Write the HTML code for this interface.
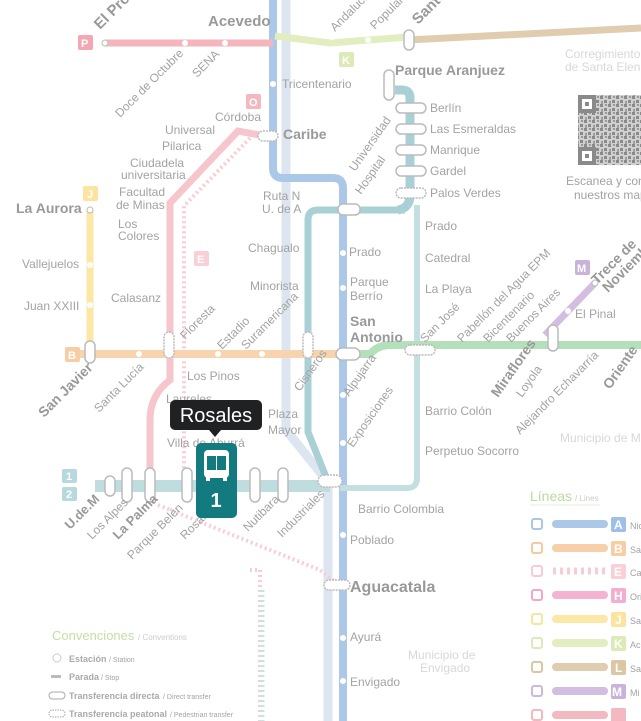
<!DOCTYPE html>
<html><head><meta charset="utf-8"><style>
html,body{margin:0;padding:0;background:#fff;width:641px;height:721px;overflow:hidden}
svg{display:block;font-family:"Liberation Sans",sans-serif}
text{fill:#a3a3a3}
.b{font-weight:bold;fill:#999}
.cap{fill:#fff;stroke:#bbb;stroke-width:1.5}
</style></head><body>
<svg width="641" height="721" viewBox="0 0 641 721" xmlns="http://www.w3.org/2000/svg" font-size="12">
<defs>
<pattern id="qr" width="8" height="8" patternUnits="userSpaceOnUse">
<rect width="8" height="8" fill="#d0d0d0"/><rect width="3" height="3" fill="#8a8a8a"/><rect x="4" y="4" width="3" height="3" fill="#8a8a8a"/><rect x="5" y="0" width="2" height="2" fill="#9a9a9a"/><rect x="1" y="5" width="2" height="3" fill="#a0a0a0"/>
</pattern>
</defs>
<rect width="641" height="721" fill="#fff"/>
<path d="M286 0 V430 L328 482 V721" stroke="#dde6f0" stroke-width="9" fill="none"/>
<path d="M273 0 V168 Q273 178 283 178 H333 Q343 178 343 188 V721" stroke="#acc8e8" stroke-width="8" fill="none"/>
<path d="M405 210 H318 Q308 210 308 220 V432 L328 482" stroke="#a9d0d5" stroke-width="7" fill="none"/>
<path d="M395 90 H402 Q410 90 410 98 V195 Q410 208 398 210" stroke="#a9d0d5" stroke-width="9" fill="none"/>
<path d="M417 205 V478 Q417 488 407 488 H340" stroke="#c3dfe2" stroke-width="6" fill="none"/>
<path d="M95 486 H330" stroke="#bfdcdf" stroke-width="12" fill="none"/>
<path d="M70 354 H345" stroke="#f7d3ae" stroke-width="8" fill="none"/>
<path d="M345 354 H370 Q378 345 390 345 H641" stroke="#b4dfbb" stroke-width="8" fill="none"/>
<path d="M105 43 H273" stroke="#f5b5bd" stroke-width="7" fill="none"/>
<path d="M275 36 L330 43 L408 37" stroke="#e2edc0" stroke-width="7" fill="none"/>
<path d="M408 40 L641 28" stroke="#e0cdb0" stroke-width="7" fill="none"/>
<path d="M265 136 L238 131 L170 203 V355 V380 Q150 395 150 420 V490" stroke="#f6c6cc" stroke-width="7" fill="none"/>
<path d="M250 138 L184 206 V470 M158 505 L320 570 L345 590 M250 570 H260 V721" stroke="#f7cdd2" stroke-width="4" stroke-dasharray="2 3" fill="none"/>
<path d="M262 590 V721" stroke="#c7e3e3" stroke-width="5" stroke-dasharray="2 3" fill="none"/>
<path d="M90 210 V355" stroke="#fce7a6" stroke-width="7" fill="none"/>
<path d="M545 335 L595 283" stroke="#d3bde0" stroke-width="7" fill="none"/>
<g class="cap">
<rect x="384" y="70" width="10" height="30" rx="5"/>
<rect x="396" y="103" width="30" height="10" rx="5"/>
<rect x="396" y="124" width="30" height="10" rx="5"/>
<rect x="396" y="145" width="30" height="10" rx="5"/>
<rect x="396" y="166" width="30" height="10" rx="5"/>
<rect x="396" y="188" width="30" height="10" rx="5" stroke-dasharray="2 1"/>
<rect x="405" y="345" width="30" height="10" rx="5" stroke-dasharray="2 1"/>
<rect x="404" y="30" width="10" height="20" rx="5"/>
<rect x="85" y="341" width="10" height="22" rx="5"/>
<rect x="164" y="332" width="10" height="26" rx="5" stroke-dasharray="2 1"/>
<rect x="303" y="332" width="10" height="26" rx="5" stroke-dasharray="2 1"/>
<rect x="336" y="348" width="24" height="12" rx="6"/>
<rect x="338" y="204" width="22" height="11" rx="5"/>
<rect x="258" y="131" width="20" height="10" rx="5" stroke-dasharray="2 1"/>
<rect x="548" y="325" width="10" height="26" rx="5"/>
<rect x="105" y="476" width="10" height="20" rx="5"/>
<rect x="122" y="468" width="10" height="34" rx="5"/>
<rect x="145" y="468" width="10" height="34" rx="5"/>
<rect x="182" y="468" width="10" height="34" rx="5"/>
<rect x="250" y="468" width="10" height="34" rx="5"/>
<rect x="278" y="468" width="10" height="34" rx="5"/>
<rect x="318" y="475" width="24" height="12" rx="6" stroke-dasharray="2 1"/>
<rect x="324" y="580" width="26" height="10" rx="5" stroke-dasharray="2 1"/>
</g>
<g fill="#fff">
<circle cx="185" cy="43" r="3"/><circle cx="225" cy="43" r="3"/><circle cx="105" cy="43" r="3" stroke="#bbb"/>
<circle cx="273" cy="84" r="3"/><circle cx="343" cy="253" r="3"/><circle cx="343" cy="288" r="3"/><circle cx="343" cy="395" r="3"/><circle cx="343" cy="443" r="3"/><circle cx="343" cy="535" r="3"/><circle cx="343" cy="638" r="3"/><circle cx="343" cy="681" r="3"/>
<circle cx="90" cy="265" r="3"/><circle cx="90" cy="305" r="3"/><circle cx="90" cy="210" r="3" stroke="#bbb"/>
<circle cx="139" cy="354" r="3"/><circle cx="218" cy="354" r="3"/><circle cx="262" cy="354" r="3"/>
<circle cx="332" cy="37" r="3"/><circle cx="368" cy="40" r="3"/><circle cx="568" cy="311" r="3"/><circle cx="595" cy="283" r="3" stroke="#bbb"/>
</g>
<g>
<text class="b" x="208" y="26" font-size="15">Acevedo</text>
<text class="b" x="100" y="30" font-size="15" transform="rotate(-45 100 30)">El Progreso</text>
<text x="335" y="32" transform="rotate(-45 335 32)">Andalucía</text>
<text x="375" y="30" transform="rotate(-45 375 30)">Popular</text>
<text class="b" x="418" y="25" font-size="15" transform="rotate(-45 418 25)">Santo Domingo</text>
<text x="120" y="118" transform="rotate(-45 120 118)">Doce de Octubre</text>
<text x="197" y="78" transform="rotate(-45 197 78)">SENA</text>
<text x="282" y="88">Tricentenario</text>
<text x="215" y="121">Córdoba</text>
<text x="165" y="134">Universal</text>
<text x="162" y="150">Pilarica</text>
<text x="130" y="167">Ciudadela</text><text x="121" y="179">universitaria</text>
<text x="119" y="196">Facultad</text><text x="116" y="209">de Minas</text>
<text x="118" y="228">Los</text><text x="118" y="240">Colores</text>
<text x="111" y="302">Calasanz</text>
<text class="b" x="16" y="213" font-size="14">La Aurora</text>
<text x="22" y="268">Vallejuelos</text>
<text x="24" y="310">Juan XXIII</text>
<text class="b" x="283" y="139" font-size="14">Caribe</text>
<text x="263" y="200">Ruta N</text><text x="262" y="213">U. de A</text>
<text x="248" y="252">Chagualo</text>
<text x="250" y="290">Minorista</text>
<text x="355" y="172" transform="rotate(-55 355 172)">Universidad</text>
<text x="361" y="195" transform="rotate(-55 361 195)">Hospital</text>
<text x="349" y="256">Prado</text>
<text x="350" y="286">Parque</text><text x="350" y="300">Berrío</text>
<text class="b" x="350" y="326" font-size="14">San</text><text class="b" x="350" y="342" font-size="14">Antonio</text>
<text class="b" x="395" y="75" font-size="14">Parque Aranjuez</text>
<text x="430" y="112">Berlín</text>
<text x="430" y="133">Las Esmeraldas</text>
<text x="430" y="154">Manrique</text>
<text x="430" y="175">Gardel</text>
<text x="430" y="197">Palos Verdes</text>
<text x="425" y="230">Prado</text>
<text x="425" y="262">Catedral</text>
<text x="425" y="293">La Playa</text>
<text x="425" y="343" transform="rotate(-45 425 343)">San José</text>
<text x="462" y="343" transform="rotate(-45 462 343)">Pabellón del Agua EPM</text>
<text x="488" y="343" transform="rotate(-45 488 343)">Bicentenario</text>
<text x="511" y="343" transform="rotate(-45 511 343)">Buenos Aires</text>
<text x="575" y="318">El Pinal</text>
<text class="b" x="597" y="285" font-size="14" transform="rotate(-45 597 285)">Trece de</text>
<text class="b" x="608" y="293" font-size="14" transform="rotate(-45 608 293)">Noviembre</text>
<text class="b" x="498" y="398" font-size="14" transform="rotate(-55 498 398)">Miraflores</text>
<text x="522" y="398" transform="rotate(-55 522 398)">Loyola</text>
<text x="520" y="435" transform="rotate(-45 520 435)">Alejandro Echavarría</text>
<text class="b" x="610" y="390" font-size="14" transform="rotate(-55 610 390)">Oriente</text>
<text x="425" y="415">Barrio Colón</text>
<text x="425" y="455">Perpetuo Socorro</text>
<text x="358" y="513">Barrio Colombia</text>
<text x="350" y="544">Poblado</text>
<text class="b" x="350" y="592" font-size="16">Aguacatala</text>
<text x="350" y="641">Ayurá</text>
<text x="350" y="686">Envigado</text>
<text x="408" y="659" style="fill:#d8d8d8">Municipio de</text><text x="420" y="672" style="fill:#d8d8d8">Envigado</text>
<text x="560" y="442" style="fill:#d8d8d8">Municipio de M</text>
<text x="565" y="58" style="fill:#d8d8d8">Corregimiento</text><text x="565" y="71" style="fill:#d8d8d8">de Santa Elena</text>
<text x="566" y="185">Escanea y consulta</text><text x="574" y="199">nuestros mapas</text>
<text x="349" y="397" transform="rotate(-55 349 397)">Alpujarra</text>
<text x="353" y="448" transform="rotate(-55 353 448)">Exposiciones</text>
<text x="187" y="380">Los Pinos</text>
<text x="166" y="403">Laureles</text>
<text x="167" y="447">Villa de Aburrá</text>
<text x="268" y="418">Plaza</text><text x="268" y="434">Mayor</text>
<text x="185" y="340" transform="rotate(-45 185 340)">Floresta</text>
<text x="222" y="350" transform="rotate(-45 222 350)">Estadio</text>
<text x="246" y="350" transform="rotate(-45 246 350)">Suramericana</text>
<text x="300" y="392" transform="rotate(-55 300 392)">Cisneros</text>
<text class="b" x="44" y="418" font-size="14" transform="rotate(-45 44 418)">San Javier</text>
<text x="99" y="413" transform="rotate(-45 99 413)">Santa Lucía</text>
<text class="b" x="70" y="530" font-size="13" transform="rotate(-45 70 530)">U.de.M</text>
<text x="92" y="540" transform="rotate(-45 92 540)">Los Alpes</text>
<text class="b" x="118" y="540" font-size="13" transform="rotate(-45 118 540)">La Palma</text>
<text x="132" y="560" transform="rotate(-45 132 560)">Parque Belén</text>
<text x="185" y="540" transform="rotate(-45 185 540)">Rosales</text>
<text x="248" y="532" transform="rotate(-45 248 532)">Nutibara</text>
<text x="282" y="538" transform="rotate(-45 282 538)">Industriales</text>
</g>
<g font-weight="bold" font-size="11">
<rect x="78" y="35" width="15" height="15" rx="2" fill="#f4a7b2"/><text x="81" y="47" style="fill:#fff">P</text>
<rect x="246" y="94" width="15" height="15" rx="2" fill="#f4b8c1"/><text x="249" y="106" style="fill:#fff">O</text>
<rect x="339" y="52" width="15" height="15" rx="2" fill="#dceab7"/><text x="342" y="64" style="fill:#fff">K</text>
<rect x="83" y="186" width="15" height="15" rx="2" fill="#fce3a0"/><text x="87" y="198" style="fill:#fff">J</text>
<rect x="194" y="251" width="15" height="15" rx="2" fill="#f8d0d5"/><text x="197" y="263" style="fill:#fff">E</text>
<rect x="65" y="347" width="15" height="15" rx="2" fill="#f7cda4"/><text x="68" y="359" style="fill:#fff">B</text>
<rect x="575" y="260" width="15" height="15" rx="2" fill="#c9b3da"/><text x="577" y="272" style="fill:#fff">M</text>
<rect x="62" y="469" width="15" height="14" rx="2" fill="#b7d8dc"/><text x="66" y="480" style="fill:#fff">1</text>
<rect x="62" y="487" width="15" height="14" rx="2" fill="#b7d8dc"/><text x="66" y="498" style="fill:#fff">2</text>
</g>
<rect x="578" y="95" width="63" height="70" fill="url(#qr)"/>
<g fill="#8a8a8a">
<rect x="578" y="95" width="18" height="18"/><rect x="582" y="99" width="10" height="10" fill="#fff"/><rect x="585" y="102" width="4" height="4"/>
<rect x="578" y="147" width="18" height="18"/><rect x="582" y="151" width="10" height="10" fill="#fff"/><rect x="585" y="154" width="4" height="4"/>
</g>
<text x="530" y="501" font-size="14" style="fill:#b9dba1">Líneas</text><text x="575" y="501" font-size="8" style="fill:#ccc">/ Lines</text>
<line x1="530" y1="505" x2="600" y2="505" stroke="#e4efd9"/>
<g font-size="9">
<rect x="532" y="519" width="10" height="10" rx="2" fill="none" stroke="#a9c6e6" stroke-width="2"/><rect x="552" y="520" width="56" height="8" rx="4" fill="#acc8e8"/><rect x="611" y="517" width="15" height="15" rx="2" fill="#9fc0e6"/><text x="614" y="529" font-size="12" font-weight="bold" style="fill:#fff">A</text><text x="630" y="529">Nic</text>
<rect x="532" y="543" width="10" height="10" rx="2" fill="none" stroke="#f6c99f" stroke-width="2"/><rect x="552" y="544" width="56" height="8" rx="4" fill="#f7d0a9"/><rect x="611" y="541" width="15" height="15" rx="2" fill="#f7cda4"/><text x="614" y="553" font-size="12" font-weight="bold" style="fill:#fff">B</text><text x="630" y="553">Sa</text>
<rect x="532" y="566" width="10" height="10" rx="2" fill="none" stroke="#f7ccd2" stroke-width="2"/><line x1="553" y1="571" x2="606" y2="571" stroke="#f7ccd2" stroke-width="7" stroke-dasharray="3 4"/><rect x="611" y="564" width="15" height="15" rx="2" fill="#f8d0d5"/><text x="614" y="576" font-size="12" font-weight="bold" style="fill:#fff">E</text><text x="630" y="576">Ca</text>
<rect x="532" y="590" width="10" height="10" rx="2" fill="none" stroke="#f2a6cc" stroke-width="2"/><rect x="552" y="591" width="56" height="8" rx="4" fill="#f4b3d3"/><rect x="611" y="588" width="15" height="15" rx="2" fill="#f2add0"/><text x="614" y="600" font-size="12" font-weight="bold" style="fill:#fff">H</text><text x="630" y="600">Ori</text>
<rect x="532" y="614" width="10" height="10" rx="2" fill="none" stroke="#fbe39c" stroke-width="2"/><rect x="552" y="615" width="56" height="8" rx="4" fill="#fce7a6"/><rect x="611" y="612" width="15" height="15" rx="2" fill="#fce3a0"/><text x="615" y="624" font-size="12" font-weight="bold" style="fill:#fff">J</text><text x="630" y="624">Sa</text>
<rect x="532" y="638" width="10" height="10" rx="2" fill="none" stroke="#dceab7" stroke-width="2"/><rect x="552" y="639" width="56" height="8" rx="4" fill="#e2edc0"/><rect x="611" y="636" width="15" height="15" rx="2" fill="#dceab7"/><text x="614" y="648" font-size="12" font-weight="bold" style="fill:#fff">K</text><text x="630" y="648">Ac</text>
<rect x="532" y="662" width="10" height="10" rx="2" fill="none" stroke="#dcc6a4" stroke-width="2"/><rect x="552" y="663" width="56" height="8" rx="4" fill="#e0cdb0"/><rect x="611" y="660" width="15" height="15" rx="2" fill="#dcc6a4"/><text x="615" y="672" font-size="12" font-weight="bold" style="fill:#fff">L</text><text x="630" y="672">Sa</text>
<rect x="532" y="686" width="10" height="10" rx="2" fill="none" stroke="#cfb8de" stroke-width="2"/><rect x="552" y="687" width="56" height="8" rx="4" fill="#d3bde0"/><rect x="611" y="684" width="15" height="15" rx="2" fill="#c9b3da"/><text x="612" y="696" font-size="12" font-weight="bold" style="fill:#fff">M</text><text x="630" y="696">Mi</text>
<rect x="532" y="710" width="10" height="10" rx="2" fill="none" stroke="#f4b8c1" stroke-width="2"/><rect x="552" y="711" width="56" height="8" rx="4" fill="#f4b8c1"/><rect x="611" y="708" width="15" height="15" rx="2" fill="#f4b8c1"/>
</g>
<text x="52" y="640" font-size="13" style="fill:#c5e0a5">Convenciones</text><text x="138" y="640" font-size="8" style="fill:#ccc">/ Conventions</text>
<circle cx="57" cy="658" r="4" fill="none" stroke="#ccc"/><text x="69" y="662" font-size="9" font-weight="bold" style="fill:#aaa">Estación</text><text x="109" y="662" font-size="7">/ Station</text>
<rect x="51" y="675" width="10" height="3" fill="#bbb"/><text x="69" y="680" font-size="9" font-weight="bold" style="fill:#aaa">Parada</text><text x="101" y="680" font-size="7">/ Stop</text>
<rect x="49" y="692" width="16" height="7" rx="3.5" fill="none" stroke="#aaa"/><text x="69" y="699" font-size="9" font-weight="bold" style="fill:#aaa">Transferencia directa</text><text x="163" y="699" font-size="7">/ Direct transfer</text>
<rect x="49" y="710" width="16" height="7" rx="3.5" fill="none" stroke="#aaa" stroke-dasharray="1.5 1"/><text x="69" y="717" font-size="9" font-weight="bold" style="fill:#aaa">Transferencia peatonal</text><text x="170" y="717" font-size="7">/ Pedestrian transfer</text>
<rect x="170" y="400" width="92" height="30" rx="5" fill="#1f2122"/>
<path d="M209 430 L215 437 L221 430 Z" fill="#1f2122"/>
<text x="216" y="422" font-size="20" text-anchor="middle" style="fill:#fff">Rosales</text>
<rect x="196" y="443" width="41" height="75" rx="5" fill="#137a80"/>
<rect x="204" y="450" width="25" height="28" rx="4" fill="#fff"/>
<rect x="207" y="456" width="9" height="14" fill="#137a80"/><rect x="217" y="456" width="9" height="14" fill="#137a80"/>
<rect x="206" y="477" width="4" height="4" fill="#fff"/><rect x="223" y="477" width="4" height="4" fill="#fff"/>
<text x="216" y="507" font-size="20" font-weight="bold" text-anchor="middle" style="fill:#fff">1</text>
</svg>
</body></html>
